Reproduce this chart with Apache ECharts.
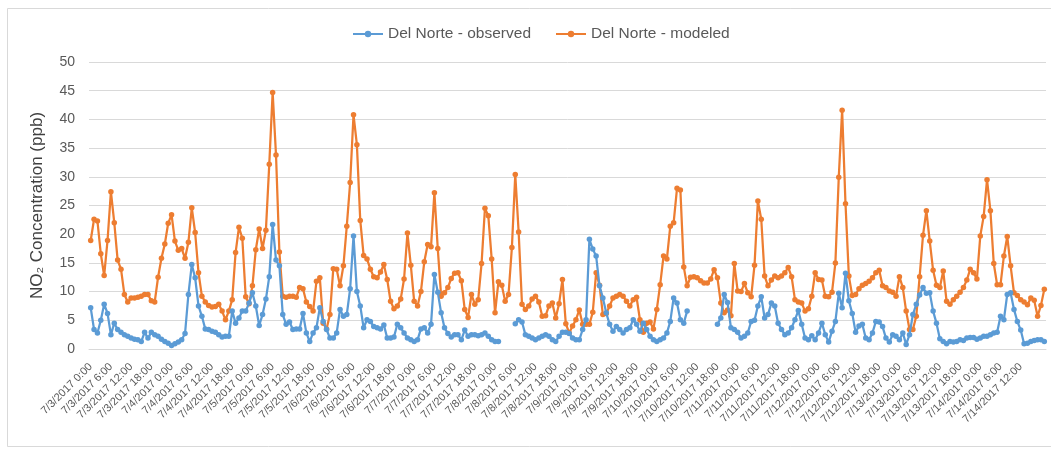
<!DOCTYPE html>
<html>
<head>
<meta charset="utf-8">
<script src="https://cdn.jsdelivr.net/npm/echarts@6/dist/echarts.min.js"></script>
<style>
html,body{margin:0;padding:0;background:#fff;}
#chart{width:1051px;height:452px;}
</style>
</head>
<body>
<div id="chart"></div>
<script>
// Hourly timestamps 7/3/2017 0:00 ... 7/14/2017 19:00 (284 hours)
const startDay = 3;
const hourCount = 284;
const categories = [];
for (let i = 0; i < hourCount; i++) {
  const d = startDay + Math.floor(i / 24);
  const h = i % 24;
  categories.push('7/' + d + '/2017 ' + h + ':00');
}
// Tick labels shown: every 6 hours, 7/3/2017 0:00 through 7/14/2017 12:00
const lastLabelIndex = 276;
const labelStep = 6;

const seriesNames = ['Del Norte - observed', 'Del Norte - modeled'];

const observed = [
  7.2,3.4,2.8,5.0,7.8,6.2,2.5,4.5,3.4,2.9,2.5,2.2,1.9,1.7,1.6,1.3,2.9,1.9,2.9,2.5,2.2,1.7,1.3,1.0,
  0.6,0.9,1.2,1.6,2.7,9.5,14.7,12.4,7.5,5.7,3.5,3.4,3.1,2.9,2.5,2.1,2.2,2.2,6.6,4.5,5.4,6.6,6.6,8.0,
  9.8,7.5,4.1,6.0,8.7,12.6,21.7,15.5,14.5,6.0,4.3,4.7,3.4,3.5,3.5,6.2,2.8,1.3,2.8,3.7,7.2,4.8,3.4,1.9,
  1.9,2.8,6.9,5.7,6.0,10.5,19.7,10.0,7.5,3.7,5.1,4.8,3.9,3.7,3.5,4.2,1.9,1.9,2.1,4.3,3.7,2.8,1.9,1.6,
  1.3,1.6,3.5,3.7,2.8,4.3,13.0,9.9,6.3,3.7,2.7,2.1,2.5,2.5,1.6,3.3,2.2,2.5,2.5,2.3,2.5,2.8,2.2,1.6,
  1.3,1.3,null,null,null,null,4.4,5.1,4.7,2.5,2.2,1.9,1.6,1.9,2.2,2.5,2.2,1.6,1.3,2.2,2.9,2.9,2.7,1.9,
  1.6,1.6,3.4,5.1,19.1,17.4,16.2,11.0,8.9,6.3,4.3,3.1,3.9,3.4,2.8,3.4,3.7,5.1,4.3,3.1,4.5,3.4,2.2,1.6,
  1.3,1.6,1.9,2.8,4.8,8.9,8.0,5.1,4.5,6.6,null,null,null,null,null,null,null,null,4.3,5.4,9.5,8.1,3.7,3.4,
  2.9,1.9,2.2,2.8,4.8,5.0,7.5,9.1,5.4,6.0,8.0,7.5,4.5,3.4,2.5,2.8,3.7,5.1,6.7,4.3,1.9,1.6,2.3,1.6,
  2.8,4.5,2.5,1.2,3.1,4.8,9.7,7.2,13.2,8.4,6.2,2.9,4.0,4.3,1.9,1.6,2.8,4.8,4.7,3.9,1.9,1.2,2.5,2.2,
  1.6,2.8,0.8,2.5,6.0,7.8,9.4,10.7,9.7,9.8,6.6,4.5,1.8,1.3,0.9,1.3,1.2,1.3,1.6,1.5,1.9,2.0,2.0,1.7,
  1.9,2.2,2.2,2.5,2.8,2.9,5.7,5.1,9.5,9.8,6.9,4.8,3.3,0.9,1.0,1.3,1.5,1.6,1.6,1.3
];

const modeled = [
  18.9,22.6,22.3,16.6,12.8,18.9,27.4,22.0,15.5,13.9,9.5,8.2,8.9,8.9,9.0,9.2,9.5,9.5,8.4,8.2,12.5,15.8,18.3,21.9,
  23.4,18.8,17.2,17.5,15.8,18.6,24.6,20.3,13.3,9.2,8.2,7.6,7.3,7.4,7.8,6.6,5.1,6.6,8.6,16.8,21.2,19.3,9.1,7.9,
  11.0,17.3,20.9,17.5,20.7,32.2,44.7,33.8,16.9,9.2,9.0,9.2,9.2,9.0,10.7,10.5,8.2,7.4,6.6,11.8,12.4,4.5,3.5,6.0,
  14.0,13.9,11.0,14.5,21.4,29.0,40.8,35.6,22.4,16.3,15.7,13.9,12.6,12.4,13.4,14.7,12.1,8.3,7.0,7.5,8.7,12.2,20.2,14.6,
  8.3,7.5,10.0,15.2,18.2,17.8,27.2,17.5,9.2,9.8,10.7,12.3,13.2,13.3,11.9,6.9,5.5,9.5,7.8,8.6,14.9,24.5,23.2,15.7,
  6.3,11.7,11.1,8.3,9.5,17.7,30.4,20.4,7.8,6.9,7.5,8.7,9.2,8.2,5.7,5.8,7.5,8.0,5.4,7.9,12.1,4.4,2.8,4.0,
  5.1,6.8,4.3,4.3,4.3,6.4,13.3,11.1,6.0,6.2,7.5,8.9,9.2,9.5,9.2,8.3,7.5,8.6,9.0,5.1,2.9,4.5,4.7,3.5,
  6.9,11.2,16.2,15.7,21.4,22.0,28.0,27.7,14.3,11.0,12.5,12.6,12.4,11.9,11.5,11.5,12.2,13.8,12.4,8.0,6.3,6.8,5.8,14.9,
  10.1,10.0,11.4,9.8,9.1,14.6,25.8,22.6,12.7,11.0,12.0,12.7,12.4,12.7,13.3,14.2,12.6,8.6,8.2,8.0,6.6,7.0,9.2,13.3,
  12.1,12.0,9.2,9.1,9.9,15.0,29.9,41.6,25.3,12.7,9.3,9.5,10.5,11.1,11.4,11.8,12.4,13.3,13.7,11.0,10.7,10.1,9.9,9.2,
  12.6,10.7,6.6,3.4,3.4,5.7,12.6,19.8,24.1,18.8,13.7,11.1,10.7,13.6,8.3,7.8,8.6,9.2,9.9,10.7,12.0,13.9,13.3,12.2,
  19.7,23.1,29.5,24.1,14.9,11.2,11.2,16.2,19.6,14.5,9.8,9.3,8.6,8.2,7.7,8.9,8.5,5.7,7.6,10.4
];

const yTicks = { min: 0, max: 50, interval: 5 };
const yTitle = 'NO\u2082 Concentration (ppb)';

const chart = echarts.init(document.getElementById('chart'), null, { renderer: 'canvas' });
const FONT = 'Liberation Sans';
chart.setOption({
  animation: false,
  backgroundColor: '#ffffff',
  color: ['#5B9BD5', '#ED7D31'],
  graphic: [{
    type: 'rect',
    shape: { x: 7.5, y: 8.5, width: 1100, height: 438 },
    style: { fill: 'none', stroke: '#d9d9d9', lineWidth: 1 },
    silent: true, z: -10
  }],
  legend: {
    top: 21,
    left: 347,
    itemWidth: 30,
    itemHeight: 8,
    itemGap: 24,
    textStyle: { color: '#595959', fontSize: 15.5, fontFamily: FONT },
    data: seriesNames
  },
  grid: { left: 89, right: 5, top: 62, bottom: 103, containLabel: false },
  xAxis: {
    type: 'category',
    data: categories,
    boundaryGap: true,
    axisLine: { lineStyle: { color: '#d9d9d9', width: 1 } },
    axisTick: { show: false },
    axisLabel: {
      interval: function (index) { return index % labelStep === 0 && index <= lastLabelIndex; },
      rotate: 45,
      margin: 16,
      color: '#595959',
      fontSize: 11,
      fontFamily: FONT
    },
    splitLine: { show: false }
  },
  yAxis: {
    type: 'value',
    min: yTicks.min,
    max: yTicks.max,
    interval: yTicks.interval,
    name: yTitle,
    nameLocation: 'middle',
    nameRotate: 90,
    nameGap: 43,
    nameTextStyle: { color: '#404040', fontSize: 17, fontFamily: FONT },
    axisLine: { show: false },
    axisTick: { show: false },
    axisLabel: { color: '#595959', fontSize: 14, fontFamily: FONT, margin: 14 },
    splitLine: { lineStyle: { color: '#d9d9d9', width: 1 } }
  },
  series: [
    {
      name: seriesNames[0],
      type: 'line',
      data: observed,
      symbol: 'circle',
      symbolSize: 5.5,
      showAllSymbol: true,
      connectNulls: false,
      lineStyle: { width: 2.25 },
      z: 3
    },
    {
      name: seriesNames[1],
      type: 'line',
      data: modeled,
      symbol: 'circle',
      symbolSize: 5.5,
      showAllSymbol: true,
      lineStyle: { width: 2.25 },
      z: 2
    }
  ]
});
</script>
</body>
</html>
